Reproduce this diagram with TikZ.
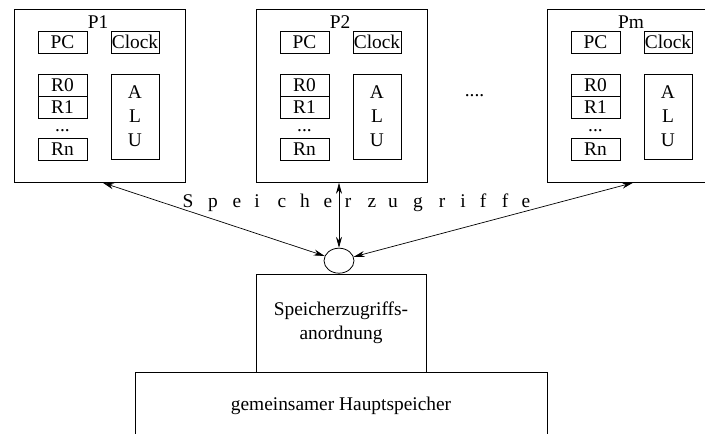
\documentclass[tikz,border=0pt]{standalone}
\usepackage{fontspec}
\setmainfont{Liberation Serif}
\usetikzlibrary{shapes.geometric, arrows.meta, positioning, calc}
\tikzstyle{cpu} = [rectangle, draw=black, line width=0.8pt, minimum width=171pt, minimum height=173pt, inner sep=0pt]
\tikzstyle{reg} = [rectangle, draw=black, line width=0.8pt, minimum width=49pt, minimum height=22pt, inner sep=0pt, outer sep=0pt]
\tikzstyle{alu} = [rectangle, draw=black, line width=0.8pt, minimum width=48pt, minimum height=85pt, inner sep=0pt, align=center]
\tikzstyle{hubstyle} = [ellipse, draw=black, line width=0.8pt, minimum width=30pt, minimum height=25pt, inner sep=0pt]
\tikzstyle{memory} = [rectangle, draw=black, line width=0.8pt, inner sep=0pt, align=center]
\tikzstyle{access} = [line width=0.7pt, <->, >={Stealth[length=11pt,width=6pt]}]

\begin{document}
\begin{tikzpicture}[x=1pt, y=-1pt, font=\fontsize{19.4}{24}\selectfont]
        \clip (0,0) rectangle (705,434);
        % processors
        \foreach \p/\L in {P1/14, P2/256, Pm/547} {
            \node (\p) [cpu, anchor=north west] at (\L,9) {};
            \node (\p-name) at (\L+84,22) {\p};
            \node (\p-pc) [reg] at (\L+48.5,42) {PC};
            \node (\p-clock) [reg, minimum width=48pt] at (\L+121,42) {Clock};
            \node (\p-r0) [reg] at (\L+48.5,85) {R0};
            \node (\p-r1) [reg, below=0pt of \p-r0] {R1};
            \node (\p-dots) [anchor=base, inner sep=0pt] at (\L+48.5,131) {...};
            \node (\p-rn) [reg] at (\L+48.5,149) {Rn};
            \node (\p-alu) [alu] at (\L+121,116.5) {A\\L\\U};
        }
        \node (more) [anchor=base, inner sep=0pt] at (474.5,96) {....};

        % memory side
        \node (arbiter) [memory, minimum width=170pt, minimum height=98pt, align=center] at (341,323) {Speicherzugriffs-\\anordnung};
        \node (hub) [hubstyle, above=0pt of arbiter, xshift=-2pt] {};
        \node (memory) [memory, minimum width=412pt, minimum height=66pt, below=0pt of arbiter] {gemeinsamer Hauptspeicher};

        \draw [access] ($(P1.south)+(3,0)$) -- (hub);
        \draw [access] (hub |- P2.south) -- (hub);
        \draw [access] (Pm.south) -- (hub);

        \foreach \l/\x [count=\i] in {S/188, p/213, e/237, i/257, c/282, h/305, e/328, r/348, z/372, u/393, g/418, r/442, i/463, f/483, f/505, e/526}
            \node (acc\i) [anchor=base] at (\x,207) {\l};
    \end{tikzpicture}
\end{document}
